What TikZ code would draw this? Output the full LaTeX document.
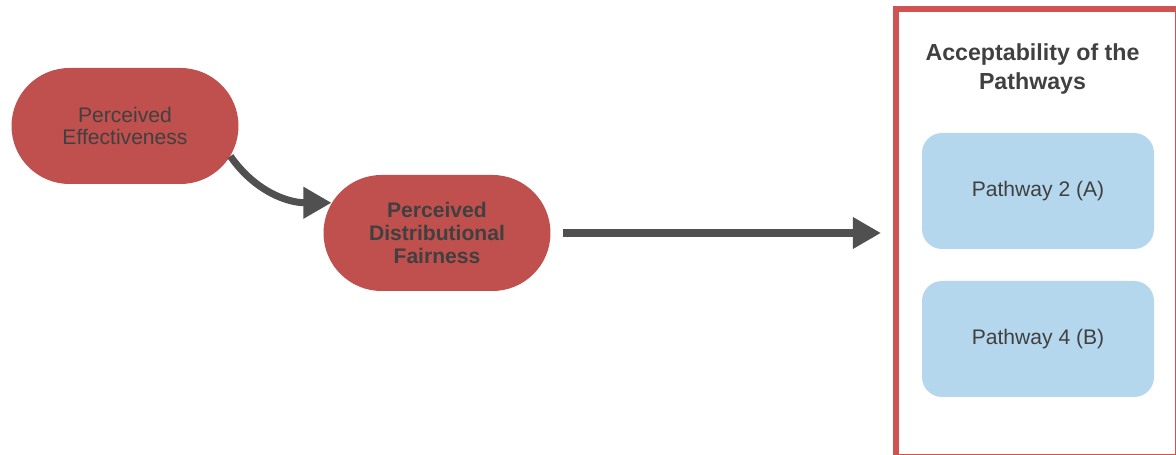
\documentclass[tikz,border=0pt]{standalone}
\usepackage{fontspec}
\setmainfont{Liberation Sans}
\usetikzlibrary{shapes.misc,arrows.meta}
\definecolor{pillred}{RGB}{192,80,77}
\definecolor{framered}{RGB}{208,82,82}
\definecolor{pathblue}{RGB}{181,215,238}
\definecolor{textgray}{RGB}{64,64,64}
\definecolor{arrowgray}{RGB}{80,80,80}
\tikzset{
  factor/.style={rounded rectangle, fill=pillred, text=textgray, align=center,
    minimum width=4.68cm, minimum height=2.32cm, inner sep=2pt,
    font=\fontsize{12}{13}\selectfont},
  pathway/.style={rectangle, rounded corners=0.4cm, fill=pathblue, text=textgray,
    minimum width=4.64cm, minimum height=2.32cm, font=\fontsize{12}{13}\selectfont},
  arr/.style={draw=arrowgray, line width=4pt,
    -{Triangle[length=16pt,width=17pt]}}
}

\begin{document}
\begin{tikzpicture}
                \useasboundingbox (0,0) rectangle (23.52,9.1);

                \node[factor] (effect) at (2.5,6.58) {Perceived\\Effectiveness};
                \node[factor, font=\fontsize{12}{13}\selectfont\bfseries] (fair) at (8.74,4.44)
                    {Perceived\\Distributional\\Fairness};

                \node[draw=framered, line width=3.4pt, minimum width=5.64cm, minimum height=8.96cm,
                      inner sep=0pt, outer sep=0pt] (accept) at (20.74,4.44) {};
                \node[text=textgray, align=center, font=\fontsize{13.2}{16}\selectfont\bfseries]
                    (title) at (20.65,7.72) {Acceptability of the\\Pathways};
                \node[pathway] (pathA) at (20.76,5.28) {Pathway 2 (A)};
                \node[pathway] (pathB) at (20.76,2.32) {Pathway 4 (B)};

                \draw[arr] (effect.-16) to[out=-55,in=180] (fair.164);
                \draw[arr, shorten <=0.24cm, shorten >=0.3cm] (fair.east) -- (accept.west);
            \end{tikzpicture}
\end{document}
